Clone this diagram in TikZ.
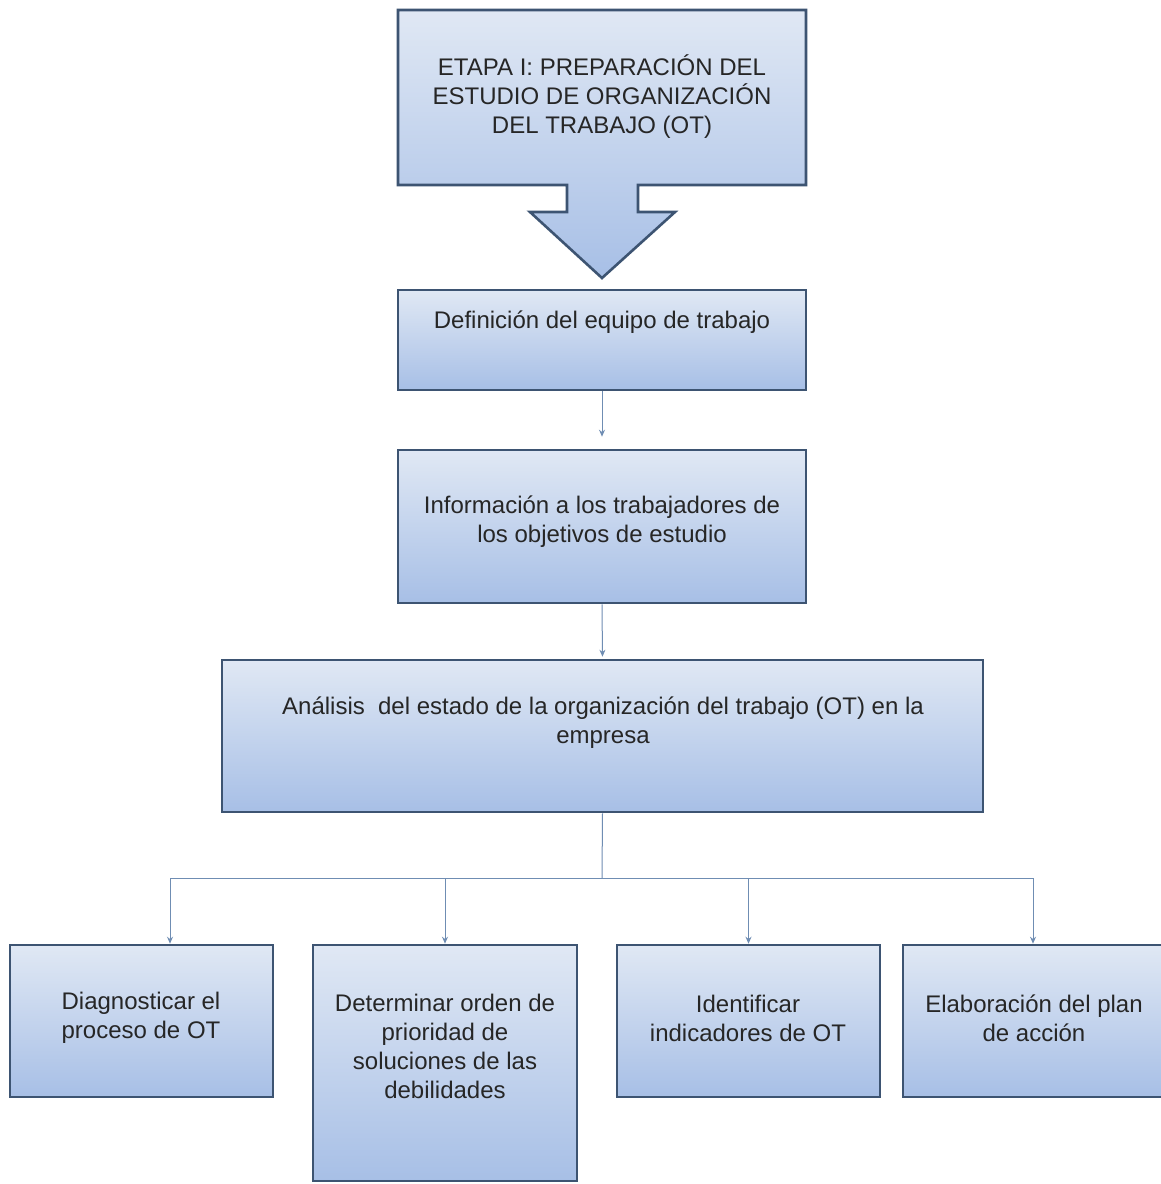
\documentclass[tikz,border=0pt]{standalone}
\usepackage{fontspec}
\setmainfont{Liberation Sans}
\usetikzlibrary{arrows.meta}
\definecolor{boxedge}{HTML}{3D5472}
\definecolor{boxtop}{HTML}{E0E8F4}
\definecolor{boxbot}{HTML}{A7BFE6}
\definecolor{conn}{HTML}{6F8DB3}
\definecolor{txt}{HTML}{262626}
\begin{document}
\begin{tikzpicture}[x=1pt,y=-1pt,
  stepbox/.style={draw=boxedge, line width=2.6pt, top color=boxtop, bottom color=boxbot,
    inner sep=0pt, rectangle},
  boxtext/.style={text=txt, align=center, font=\fontsize{24}{29}\selectfont, inner sep=0pt},
  conline/.style={draw=conn, line width=1pt},
  conarrow/.style={conline, -{Stealth[length=7pt,width=6pt]}}
]
\clip (0,0) rectangle (1161,1184);
\fill[white] (0,0) rectangle (1161,1184);

% top callout with down arrow
\shade[top color=boxtop, bottom color=boxbot]
  (398,10) -- (806,10) -- (806,185) -- (638,185) -- (638,212) -- (675,212) -- (602,278)
  -- (530,212) -- (567,212) -- (567,185) -- (398,185) -- cycle;
\draw[boxedge, line width=2.6pt, line join=miter]
  (398,10) -- (806,10) -- (806,185) -- (638,185) -- (638,212) -- (675,212) -- (602,278)
  -- (530,212) -- (567,212) -- (567,185) -- (398,185) -- cycle;
\node[boxtext] (t0) at (602,97) {ETAPA I: PREPARACIÓN DEL\\ESTUDIO DE ORGANIZACIÓN\\DEL TRABAJO (OT)};

% main boxes
\node[stepbox, minimum width=408pt, minimum height=100pt] (b2) at (602,340) {};
\node[boxtext] (t2) at (602,322) {Definición del equipo de trabajo};

\node[stepbox, minimum width=408pt, minimum height=153pt] (b3) at (602,526.5) {};
\node[boxtext] (t3) at (602,521.5) {Información a los trabajadores de\\los objetivos de estudio};

\node[stepbox, minimum width=761pt, minimum height=152pt] (b4) at (602.5,736) {};
\node[boxtext] (t4) at (603,722.5) {Análisis\ \ del estado de la organización del trabajo (OT) en la\\empresa};

% bottom boxes
\node[stepbox, minimum width=263pt, minimum height=152pt] (c1) at (141.5,1021) {};
\node[boxtext] (u1) at (141,1018) {Diagnosticar el\\proceso de OT};

\node[stepbox, minimum width=264pt, minimum height=236pt] (c2) at (445,1063) {};
\node[boxtext] (u2) at (445,1046) {Determinar orden de\\prioridad de\\soluciones de las\\debilidades};

\node[stepbox, minimum width=263pt, minimum height=152pt] (c3) at (748.5,1021) {};
\node[boxtext] (u3) at (748,1018) {Identificar\\indicadores de OT};

\node[stepbox, minimum width=262pt, minimum height=152pt] (c4) at (1034,1021) {};
\node[boxtext] (u4) at (1034,1018) {Elaboración del plan\\de acción};

% connectors
\draw[conarrow, shorten >=12pt] (b2.south) -- (b3.north);
\draw[conarrow, shorten >=2pt] (b3.south) -- (b4.north);

\coordinate (j) at (602,878);
\coordinate (jl) at (170,878);
\coordinate (jr) at (1033,878);
\draw[conline] (b4.south) -- (j);
\draw[conline] (jl) -- (jr);
\draw[conarrow] (jl) -- (c1.north -| jl);
\draw[conarrow] (c2.north |- j) -- (c2.north);
\draw[conarrow] (c3.north |- j) -- (c3.north);
\draw[conarrow] (jr) -- (c4.north -| jr);
\end{tikzpicture}
\end{document}
